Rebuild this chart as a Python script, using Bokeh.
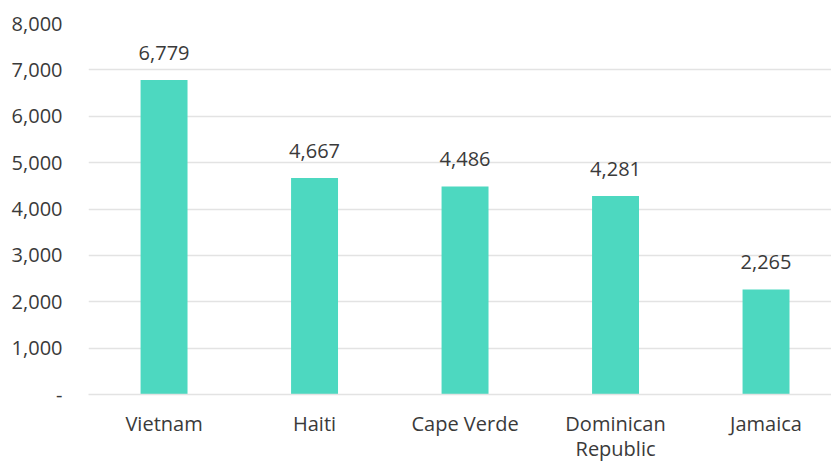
from bokeh.plotting import figure
from bokeh.models import ColumnDataSource, FixedTicker, NumeralTickFormatter, Range1d
from bokeh.core.properties import value
from bokeh.embed import file_html
from bokeh.resources import INLINE

categories = ["Vietnam", "Haiti", "Cape Verde", "Dominican\nRepublic", "Jamaica"]
values = [6779, 4667, 4486, 4281, 2265]
labels = ["6,779", "4,667", "4,486", "4,281", "2,265"]
y_ticks = [0, 1000, 2000, 3000, 4000, 5000, 6000, 7000, 8000]

xs = list(range(len(categories)))
src = ColumnDataSource(dict(x=xs, top=values, label=labels))

FONT = "Open Sans"
TXT = "#3a3a3a"
GRID = "#e3e3e3"

p = figure(frame_width=743, frame_height=371, output_backend="svg", toolbar_location=None,
           x_range=Range1d(-0.502, 4.435), y_range=Range1d(0, 8000),
           min_border_left=88, min_border_right=0, min_border_top=23, min_border_bottom=0)
p.outline_line_color = None
p.background_fill_color = "white"
p.border_fill_color = "white"

p.vbar(x="x", top="top", width=0.312, source=src, color="#4dd8c0", line_color=None)
p.text(x="x", y="top", text="label", source=src, text_align="center", text_baseline="alphabetic",
       y_offset=-27, text_font=value(FONT), text_font_size="20px", text_color=TXT)

p.xgrid.grid_line_color = None
p.ygrid.grid_line_color = GRID
p.ygrid.grid_line_width = 1.5
p.ygrid.ticker = FixedTicker(ticks=y_ticks)

ya = p.yaxis[0]
ya.ticker = FixedTicker(ticks=y_ticks)
ya.formatter = NumeralTickFormatter(format="0,0")
ya.major_label_overrides = {0: "-"}
ya.axis_line_color = None
ya.major_tick_line_color = None
ya.minor_tick_line_color = None
ya.major_tick_out = 0
ya.major_label_standoff = 26
ya.major_label_text_font = FONT
ya.major_label_text_font_size = "20px"
ya.major_label_text_color = TXT

xa = p.xaxis[0]
xa.ticker = FixedTicker(ticks=xs)
xa.major_label_overrides = {i: c for i, c in zip(xs, categories)}
xa.axis_line_color = GRID
xa.axis_line_width = 1.5
xa.major_tick_line_color = None
xa.minor_tick_line_color = None
xa.major_tick_out = 0
xa.major_label_standoff = 15
xa.major_label_text_font = FONT
xa.major_label_text_font_size = "20px"
xa.major_label_text_line_height = 0.95
xa.major_label_text_color = TXT

open("out.html", "w").write(file_html(p, INLINE))
